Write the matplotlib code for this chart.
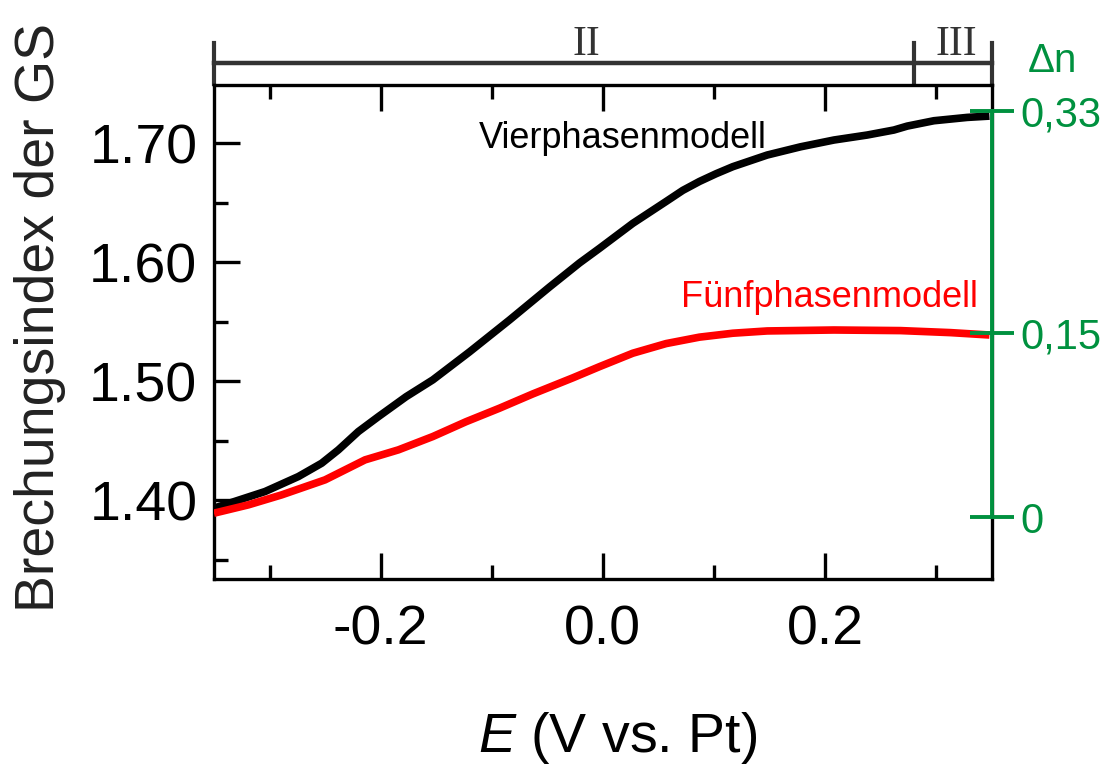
import numpy as np
import matplotlib
matplotlib.use("Agg")
import matplotlib.pyplot as plt
import matplotlib.transforms as mtransforms

# Vierphasenmodell (black) and Fünfphasenmodell (red)
E_vier = [-0.350, -0.304, -0.274, -0.253, -0.238, -0.220, -0.202, -0.177,
          -0.153, -0.120, -0.084, -0.048, -0.021, -0.003, 0.027, 0.057,
          0.072, 0.087, 0.102, 0.117, 0.148, 0.178, 0.208, 0.238, 0.262,
          0.274, 0.298, 0.328, 0.348]
n_vier = [1.3935, 1.4075, 1.4201, 1.4313, 1.4425, 1.4579, 1.4704, 1.4872,
          1.5013, 1.5248, 1.5516, 1.5793, 1.5995, 1.6118, 1.6328, 1.6512,
          1.6605, 1.6680, 1.6745, 1.6804, 1.6902, 1.6971, 1.7028, 1.7070,
          1.7112, 1.7145, 1.7190, 1.7218, 1.7229]

E_fuenf = [-0.350, -0.319, -0.289, -0.250, -0.214, -0.184, -0.153, -0.123,
           -0.093, -0.063, -0.027, -0.003, 0.027, 0.057, 0.087, 0.117,
           0.148, 0.208, 0.268, 0.313, 0.348]
n_fuenf = [1.3893, 1.3963, 1.4047, 1.4173, 1.4341, 1.4425, 1.4537, 1.4662,
           1.4775, 1.4895, 1.5030, 1.5124, 1.5237, 1.5318, 1.5372, 1.5405,
           1.5424, 1.5432, 1.5427, 1.5410, 1.5390]

x_major = [-0.2, 0.0, 0.2]
x_minor = [-0.3, -0.1, 0.1, 0.3]
y_major = [1.40, 1.50, 1.60, 1.70]
y_minor = [1.35, 1.45, 1.55, 1.65]
dn_ticks = [0, 0.15, 0.33]
dn_labels = ["0", "0,15", "0,33"]

# ranges of the top bracket (II, III)
bracket_edges = [-0.35, 0.28, 0.35]
bracket_labels = ["II", "III"]
bracket_label_x = [-0.015, 0.318]

GREEN = "#00913f"
SANS = ["Liberation Sans", "DejaVu Sans"]

plt.rcParams["mathtext.fontset"] = "custom"
plt.rcParams["mathtext.it"] = "Liberation Sans:italic"
plt.rcParams["mathtext.rm"] = "Liberation Sans"

fig = plt.figure(figsize=(11.12, 7.66), dpi=100)
ax = fig.add_axes([0.1924, 0.2441, 0.6994, 0.6449])

ax.plot(E_vier, n_vier, color="black", lw=5.5, solid_capstyle="butt",
        solid_joinstyle="round", zorder=3)
ax.plot(E_fuenf, n_fuenf, color="#ff0000", lw=5.5, solid_capstyle="butt",
        solid_joinstyle="round", zorder=3)

ax.set_xlim(-0.35, 0.35)
ax.set_ylim(1.334, 1.749)
ax.set_xticks(x_major)
ax.set_xticks(x_minor, minor=True)
ax.set_yticks(y_major)
ax.set_yticks(y_minor, minor=True)
ax.set_xticklabels([f"{v:.1f}" for v in x_major], family=SANS, fontsize=40)
ax.set_yticklabels([f"{v:.2f}" for v in y_major], family=SANS, fontsize=40)

for s in ax.spines.values():
    s.set_linewidth(2.4)
ax.tick_params(which="both", direction="in", top=True, right=False, width=2.4)
ax.tick_params(which="major", length=19)
ax.tick_params(which="minor", length=10)
ax.tick_params(axis="y", pad=12)
ax.tick_params(axis="x", pad=18)

ax.text(0.1475, 1.6958, "Vierphasenmodell", ha="right", va="baseline",
        fontsize=26, family=SANS, color="black")
ax.text(0.3373, 1.5623, "Fünfphasenmodell", ha="right", va="baseline",
        fontsize=26, family=SANS, color="#ff0000")

# bracket above the plot
trans = mtransforms.blended_transform_factory(ax.transData, ax.transAxes)
ax.plot([bracket_edges[0], bracket_edges[-1]], [1.044, 1.044], color="#333333",
        lw=3.2, transform=trans, clip_on=False)
for xe in bracket_edges:
    ax.plot([xe, xe], [1.002, 1.086], color="#333333", lw=3.0,
            transform=trans, clip_on=False)
for xl, lab in zip(bracket_label_x, bracket_labels):
    ax.text(xl, 1.061, lab, ha="center", va="baseline", transform=trans,
            fontsize=30, family=["Liberation Serif", "DejaVu Serif"], color="#333333")

# green delta-n axis
ax2 = ax.twinx()
ax2.set_ylim(-0.0501, 0.3511)
for side in ["left", "top", "bottom"]:
    ax2.spines[side].set_visible(False)
ax2.spines["right"].set_color(GREEN)
ax2.spines["right"].set_linewidth(2.8)
ax2.spines["right"].set_bounds(0, 0.33)
ax2.set_yticks(dn_ticks)
ax2.set_yticklabels(dn_labels, family=SANS, fontsize=30, color=GREEN)
ax2.tick_params(axis="y", direction="inout", length=31, width=2.8, color=GREEN, pad=5)
fig.text(1052 / 1112, 1 - 72 / 766, "Δn", ha="center", va="baseline",
         fontsize=29, family=SANS, color=GREEN)

fig.text(40 / 1112, 1 - 318 / 766, "Brechungsindex der GS", rotation=90,
         ha="center", va="center", fontsize=40, family=SANS, color="#222222")
fig.text(618 / 1112, 1 - 752 / 766, r"$\mathit{E}$ (V vs. Pt)", ha="center",
         va="baseline", fontsize=40, family=SANS, color="black")

fig.savefig("out.png", dpi=100)
